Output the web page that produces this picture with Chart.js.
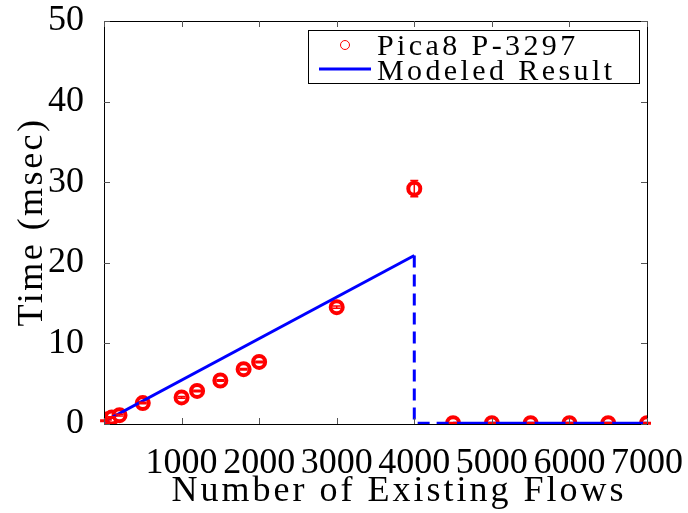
<!DOCTYPE html>
<html>
<head>
<meta charset="utf-8">
<script src="https://cdn.jsdelivr.net/npm/chart.js@4.4.1/dist/chart.umd.min.js"></script>
<style>
  html, body { margin: 0; padding: 0; background: #fff; }
  #wrap { width: 688px; height: 513px; position: relative; }
</style>
</head>
<body>
<div id="wrap"><canvas id="flowChart"></canvas></div>
<script>
// measured install time vs. number of flows already in the table
const flowCounts = [1, 50, 100, 200, 500, 1000, 1200, 1500, 1800, 2000, 3000, 4000, 4500, 5000, 5500, 6000, 6500, 7000];
const measuredMs = [0.4, 0.6, 0.8, 1.1, 2.6, 3.3, 4.1, 5.4, 6.8, 7.7, 14.5, 29.2, 0.1, 0.1, 0.1, 0.1, 0.1, 0.1];
const measuredErr = [0.1, 0.1, 0.1, 0.1, 0.1, 0.1, 0.1, 0.1, 0.1, 0.1, 0.15, 1.0, 0.1, 0.1, 0.1, 0.1, 0.1, 0.1];

// model: linear up to the table limit, then drops to ~0
const modelFlows = [0, 4000];
const modelMs = [0.3, 20.9];
const dropFlows = [4000, 4000, 4500];
const dropMs = [20.9, 0.1, 0.1];
const tailFlows = [4500, 7000];
const tailMs = [0.1, 0.1];

const xTicks = [0, 1000, 2000, 3000, 4000, 5000, 6000, 7000];
const yTicks = [0, 10, 20, 30, 40, 50];

const RED = '#ff0000';
const BLUE = '#0000ff';
const SERIF = '"Liberation Serif", "DejaVu Serif", serif';

function toPoints(xs, ys) {
    return xs.map((x, i) => ({ x: x, y: ys[i] }));
}

// box around the plot with matlab-style inward ticks
const frameTicks = {
    id: 'frameTicks',
    afterDatasetsDraw(chart) {
        const { ctx, chartArea: a, scales } = chart;
        ctx.save();
        ctx.strokeStyle = '#000';
        ctx.lineWidth = 1;
        ctx.strokeRect(Math.round(a.left) + 0.5, Math.round(a.top) + 0.5,
            Math.round(a.right - a.left), Math.round(a.bottom - a.top));
        ctx.strokeStyle = '#555';
        ctx.beginPath();
        xTicks.forEach(v => {
            const px = Math.round(scales.x.getPixelForValue(v)) + 0.5;
            ctx.moveTo(px, a.bottom); ctx.lineTo(px, a.bottom - 6);
            ctx.moveTo(px, a.top); ctx.lineTo(px, a.top + 6);
        });
        yTicks.forEach(v => {
            const py = Math.round(scales.y.getPixelForValue(v)) + 0.5;
            ctx.moveTo(a.left, py); ctx.lineTo(a.left + 6, py);
            ctx.moveTo(a.right, py); ctx.lineTo(a.right - 6, py);
        });
        ctx.stroke();
        ctx.restore();
    }
};

// vertical error bars on the measured points
const errorBars = {
    id: 'errorBars',
    afterDatasetsDraw(chart) {
        const { ctx, scales } = chart;
        const meta = chart.getDatasetMeta(3);
        if (meta.hidden) return;
        ctx.save();
        ctx.strokeStyle = RED;
        ctx.lineWidth = 1.5;
        flowCounts.forEach((f, i) => {
            const px = scales.x.getPixelForValue(f);
            const yTop = scales.y.getPixelForValue(measuredMs[i] + measuredErr[i]);
            const yBot = scales.y.getPixelForValue(measuredMs[i] - measuredErr[i]);
            ctx.beginPath();
            ctx.moveTo(px, yTop); ctx.lineTo(px, yBot);
            ctx.moveTo(px - 4, yTop); ctx.lineTo(px + 4, yTop);
            ctx.moveTo(px - 4, yBot); ctx.lineTo(px + 4, yBot);
            ctx.stroke();
        });
        ctx.restore();
    }
};

// axis titles and boxed legend, drawn with letter spacing like the latex labels
const labelsAndLegend = {
    id: 'labelsAndLegend',
    afterDraw(chart) {
        const { ctx } = chart;
        ctx.save();
        ctx.fillStyle = '#000';

        ctx.font = '36px ' + SERIF;
        ctx.letterSpacing = '3px';
        ctx.textAlign = 'center';
        ctx.textBaseline = 'alphabetic';
        ctx.fillText('Number of Existing Flows', 399, 501);

        ctx.save();
        ctx.translate(42, 222);
        ctx.rotate(-Math.PI / 2);
        ctx.letterSpacing = '2.5px';
        ctx.fillText('Time (msec)', 0, 0);
        ctx.restore();

        // legend
        ctx.letterSpacing = '0px';
        ctx.strokeStyle = '#000';
        ctx.lineWidth = 1;
        ctx.fillStyle = '#fff';
        ctx.fillRect(308.5, 30.5, 331, 53);
        ctx.strokeRect(308.5, 30.5, 331, 53);

        ctx.strokeStyle = RED;
        ctx.lineWidth = 1;
        ctx.beginPath();
        ctx.arc(345, 45, 4.5, 0, Math.PI * 2);
        ctx.stroke();

        ctx.strokeStyle = BLUE;
        ctx.lineWidth = 3;
        ctx.beginPath();
        ctx.moveTo(319, 69); ctx.lineTo(371, 69);
        ctx.stroke();

        ctx.fillStyle = '#000';
        ctx.font = '30px ' + SERIF;
        ctx.textAlign = 'left';
        ctx.letterSpacing = '3.4px';
        ctx.fillText(chart.data.datasets[3].label, 377, 55);
        ctx.fillText(chart.data.datasets[0].label, 377, 80);
        ctx.restore();
    }
};

document.addEventListener("DOMContentLoaded", function() {
    const chartElement = document.getElementById('flowChart');
    const ctx = chartElement.getContext('2d');
    const flowChart = new Chart(ctx, {
        type: 'scatter',
        data: {
            datasets: [{
                label: 'Modeled Result',
                data: toPoints(modelFlows, modelMs),
                showLine: true,
                borderColor: BLUE,
                borderWidth: 3,
                pointRadius: 0,
                fill: false
            }, {
                label: 'model drop',
                data: toPoints(dropFlows, dropMs),
                showLine: true,
                borderColor: BLUE,
                borderWidth: 3,
                borderDash: [12, 7],
                pointRadius: 0,
                fill: false
            }, {
                label: 'model tail',
                data: toPoints(tailFlows, tailMs),
                showLine: true,
                borderColor: BLUE,
                borderWidth: 3,
                pointRadius: 0,
                fill: false
            }, {
                label: 'Pica8 P-3297',
                data: toPoints(flowCounts, measuredMs),
                showLine: false,
                pointStyle: 'circle',
                pointRadius: 6,
                pointBorderWidth: 4,
                pointBorderColor: RED,
                pointBackgroundColor: '#fff'
            }]
        },
        options: {
            responsive: true,
            maintainAspectRatio: false,
            animation: false,
            events: [],
            layout: {
                padding: { left: 0, top: 21, right: 41, bottom: 0 }
            },
            plugins: {
                legend: { display: false },
                tooltip: { enabled: false }
            },
            scales: {
                x: {
                    type: 'linear',
                    min: 0,
                    max: 7000,
                    afterFit: s => {
                        s.height = 89;
                        s.paddingLeft = 0;
                        s.paddingRight = 0;
                    },
                    afterBuildTicks: s => { s.ticks = xTicks.map(v => ({ value: v })); },
                    grid: { display: false },
                    border: { display: false },
                    ticks: {
                        padding: 14,
                        color: '#000',
                        maxRotation: 0,
                        autoSkip: false,
                        font: { family: SERIF, size: 36, lineHeight: 1 },
                        callback: v => (v === 0 ? '' : v)
                    }
                },
                y: {
                    type: 'linear',
                    min: 0,
                    max: 50,
                    afterFit: s => {
                        s.width = 104;
                        s.paddingTop = 0;
                        s.paddingBottom = 0;
                    },
                    afterBuildTicks: s => { s.ticks = yTicks.map(v => ({ value: v })); },
                    grid: { display: false },
                    border: { display: false },
                    ticks: {
                        padding: 12,
                        color: '#000',
                        autoSkip: false,
                        font: { family: SERIF, size: 36, lineHeight: 1 }
                    }
                }
            }
        },
        plugins: [errorBars, frameTicks, labelsAndLegend]
    });
});
</script>
</body>
</html>
